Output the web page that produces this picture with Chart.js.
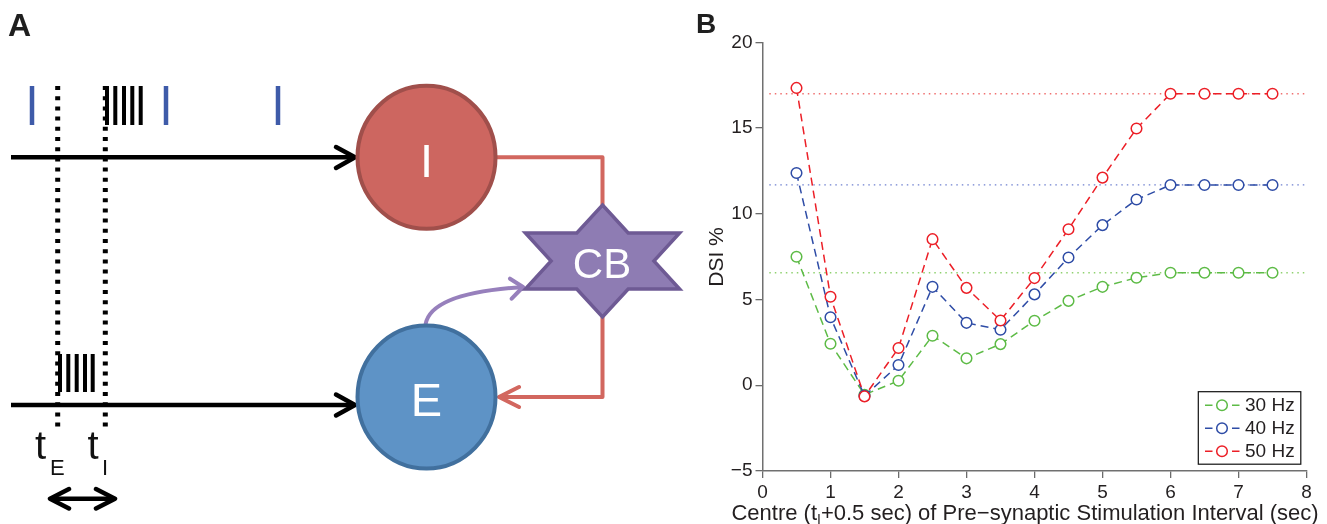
<!DOCTYPE html>
<html>
<head>
<meta charset="utf-8">
<script src="https://cdn.jsdelivr.net/npm/chart.js@4.4.1/dist/chart.umd.min.js"></script>
<style>
html,body{margin:0;padding:0;background:#fff;}
#wrap{position:relative;width:1327px;height:524px;overflow:hidden;}
#c{position:absolute;left:0;top:0;}
#diagram{position:absolute;left:0;top:0;pointer-events:none;}
</style>
</head>
<body>
<div id="wrap">
<canvas id="c" width="1327" height="524"></canvas>
<svg id="diagram" width="1327" height="524" viewBox="0 0 1327 524" font-family="'Liberation Sans', Arial, sans-serif">
  <text x="8" y="36" font-size="32" font-weight="bold" fill="#1f1f1f">A</text>
  <text x="696" y="33" font-size="28" font-weight="bold" fill="#1f1f1f">B</text>
  <!-- stimulus trains -->
  <g stroke="#3E5BA9" stroke-width="4.5">
    <line x1="32" y1="86" x2="32" y2="125"/>
    <line x1="166" y1="86" x2="166" y2="125"/>
    <line x1="278" y1="86" x2="278" y2="125"/>
  </g>
  <g stroke="#000" stroke-width="4">
    <line x1="107" y1="86" x2="107" y2="125"/>
    <line x1="115.3" y1="86" x2="115.3" y2="125"/>
    <line x1="124" y1="86" x2="124" y2="125"/>
    <line x1="132.3" y1="86" x2="132.3" y2="125"/>
    <line x1="140.7" y1="86" x2="140.7" y2="125"/>
    <line x1="60" y1="354" x2="60" y2="392"/>
    <line x1="68.3" y1="354" x2="68.3" y2="392"/>
    <line x1="76.7" y1="354" x2="76.7" y2="392"/>
    <line x1="85" y1="354" x2="85" y2="392"/>
    <line x1="92.7" y1="354" x2="92.7" y2="392"/>
  </g>
  <g stroke="#000" stroke-width="5" stroke-dasharray="4 6.2">
    <line x1="57.7" y1="86" x2="57.7" y2="427"/>
    <line x1="105.3" y1="86" x2="105.3" y2="427"/>
  </g>
  <!-- input arrows -->
  <g stroke="#000" stroke-width="4.5" fill="none">
    <line x1="11" y1="157.3" x2="352" y2="157.3"/>
    <line x1="11" y1="405" x2="352" y2="405"/>
  </g>
  <g stroke="#000" stroke-width="4.5" fill="none" stroke-linecap="round" stroke-linejoin="round">
    <polyline points="336,147 355,157.3 336,168"/>
    <polyline points="336,394.5 355,405 336,415.5"/>
    <line x1="52" y1="498.7" x2="113" y2="498.7"/>
    <polyline points="69,489 50,498.7 69,508.5"/>
    <polyline points="96,489 115,498.7 96,508.5"/>
  </g>
  <!-- time labels -->
  <text x="35" y="459" font-size="40" fill="#111">t</text>
  <text x="50" y="475" font-size="22" fill="#111">E</text>
  <text x="87.5" y="459" font-size="40" fill="#111">t</text>
  <text x="102" y="475" font-size="22" fill="#111">I</text>
  <!-- connections -->
  <g stroke="#D2675F" stroke-width="4" fill="none" stroke-linejoin="round" stroke-linecap="round">
    <polyline points="496,157.3 602.5,157.3 602.5,207"/>
    <polyline points="602.5,315 602.5,397 500,397"/>
    <polyline points="519,387 499,397 519,407"/>
  </g>
  <g stroke="#9780BC" stroke-width="4" fill="none" stroke-linecap="round" stroke-linejoin="round">
    <path d="M425.7,323.7 Q432,293 521,287.2"/>
    <polyline points="510,278.7 523,287 511.7,298.7"/>
  </g>
  <!-- neurons -->
  <ellipse cx="426.5" cy="157.3" rx="69" ry="71.5" fill="#CD6660" stroke="#A04F4B" stroke-width="4"/>
  <text x="426.5" y="177" font-size="47" fill="#fff" text-anchor="middle">I</text>
  <ellipse cx="426.5" cy="397" rx="69" ry="71.5" fill="#5E93C6" stroke="#41709E" stroke-width="4"/>
  <text x="426.5" y="416" font-size="47" fill="#fff" text-anchor="middle">E</text>
  <polygon points="602.5,205 628.2,233 679.6,233 653.9,261 679.6,289 628.2,289 602.5,317 576.8,289 525.4,289 551.1,261 525.4,233 576.8,233" fill="#8E7CB3" stroke="#6E5A94" stroke-width="3.5" stroke-linejoin="miter"/>
  <text x="602" y="278" font-size="42" fill="#fff" text-anchor="middle">CB</text>
</svg>
</div>
<script>
// ---- data ----
const xValues = [0.5, 1, 1.5, 2, 2.5, 3, 3.5, 4, 4.5, 5, 5.5, 6, 6.5, 7, 7.5];
const dsi30Hz = [7.49, 2.42, -0.55, 0.26, 2.89, 1.57, 2.40, 3.76, 4.92, 5.74, 6.27, 6.56, 6.56, 6.56, 6.56];
const dsi40Hz = [12.38, 3.97, -0.62, 1.18, 5.74, 3.64, 3.24, 5.30, 7.45, 9.34, 10.83, 11.68, 11.68, 11.68, 11.68];
const dsi50Hz = [17.34, 5.16, -0.65, 2.17, 8.52, 5.68, 3.78, 6.25, 9.10, 12.11, 14.97, 17.0, 17.0, 17.0, 17.0];
const plateauX = [0.1, 8];
const plateau30Hz = [6.56, 6.56];
const plateau40Hz = [11.68, 11.68];
const plateau50Hz = [17.0, 17.0];
const seriesLabels = ['30 Hz', '40 Hz', '50 Hz'];
const xTickValues = [0, 1, 2, 3, 4, 5, 6, 7, 8];
const yTickValues = [-5, 0, 5, 10, 15, 20];
const xTitleParts = ['Centre (t', 'I', '+0.5 sec) of Pre\u2212synaptic Stimulation Interval (sec)'];
const yTitle = 'DSI %';

const FONT = "'Liberation Sans', Arial, sans-serif";
const TEXT = '#231f20';
const colors = {
  c30: '#5DBB46', c40: '#2E4CA6', c50: '#EC1F27',
  d30: '#8FD16F', d40: '#6F80D0', d50: '#F07070'
};

const pts = (xs, ys) => xs.map((x, i) => ({x: x, y: ys[i]}));

function series(label, ys, color, order) {
  return {
    label: label, data: pts(xValues, ys), order: order,
    borderColor: color, borderWidth: 1.5, borderDash: [8, 5],
    pointRadius: 5.3, pointBorderWidth: 1.5, pointBorderColor: color,
    pointBackgroundColor: '#ffffff', fill: false, tension: 0
  };
}
function plateau(ys, color) {
  return {
    label: '', data: pts(plateauX, ys), order: 10, isPlateau: true,
    borderColor: color, borderWidth: 1.3, borderDash: [1.5, 4],
    pointRadius: 0, fill: false, tension: 0
  };
}

const datasets = [
  plateau(plateau30Hz, colors.d30),
  plateau(plateau40Hz, colors.d40),
  plateau(plateau50Hz, colors.d50),
  series(seriesLabels[0], dsi30Hz, colors.c30, 3),
  series(seriesLabels[1], dsi40Hz, colors.c40, 2),
  series(seriesLabels[2], dsi50Hz, colors.c50, 1)
];

const overlay = {
  id: 'overlay',
  afterDraw(chart) {
    const ctx = chart.ctx;
    ctx.save();
    // legend box
    const bx = 1198.3, by = 391.7, bw = 102.5, bh = 72.5;
    ctx.fillStyle = '#fff';
    ctx.fillRect(bx, by, bw, bh);
    ctx.strokeStyle = '#111';
    ctx.lineWidth = 1.2;
    ctx.strokeRect(bx, by, bw, bh);
    const entries = chart.data.datasets.filter(d => !d.isPlateau);
    entries.forEach((d, i) => {
      const cy = by + 13.5 + i * 23;
      ctx.strokeStyle = d.borderColor;
      ctx.lineWidth = 1.5;
      ctx.setLineDash([]);
      ctx.beginPath();
      ctx.moveTo(1205, cy); ctx.lineTo(1212.5, cy);
      ctx.moveTo(1232, cy); ctx.lineTo(1239.5, cy);
      ctx.stroke();
      ctx.beginPath();
      ctx.arc(1222, cy, 5.3, 0, Math.PI * 2);
      ctx.fillStyle = '#fff';
      ctx.fill();
      ctx.stroke();
      ctx.fillStyle = TEXT;
      ctx.font = '19px ' + FONT;
      ctx.textAlign = 'left';
      ctx.textBaseline = 'middle';
      ctx.fillText(d.label, 1245, cy + 1);
    });
    // x title with subscript
    const big = '22px ' + FONT, small = '14px ' + FONT;
    ctx.font = big; const w0 = ctx.measureText(xTitleParts[0]).width;
    const w2 = ctx.measureText(xTitleParts[2]).width;
    ctx.font = small; const w1 = ctx.measureText(xTitleParts[1]).width;
    let x = 1025 - (w0 + w1 + w2) / 2;
    const base = 520;
    ctx.fillStyle = TEXT;
    ctx.textAlign = 'left';
    ctx.textBaseline = 'alphabetic';
    ctx.font = big; ctx.fillText(xTitleParts[0], x, base); x += w0;
    ctx.font = small; ctx.fillText(xTitleParts[1], x, base + 4); x += w1;
    ctx.font = big; ctx.fillText(xTitleParts[2], x, base);
    // y title
    ctx.translate(722.5, 257);
    ctx.rotate(-Math.PI / 2);
    ctx.font = '21px ' + FONT;
    ctx.textAlign = 'center';
    ctx.fillText(yTitle, 0, 0);
    ctx.restore();
  }
};

const axisCommon = {
  type: 'linear',
  grid: { display: true, drawOnChartArea: false, drawTicks: true, tickLength: 7, color: '#6b6b6b', lineWidth: 1.3 },
  border: { display: true, color: '#707070', width: 1.5 },
};

new Chart(document.getElementById('c'), {
  type: 'line',
  data: { datasets: datasets },
  options: {
    responsive: false,
    animation: false,
    devicePixelRatio: 1,
    layout: { padding: { left: 712.5, right: 20.5, top: 42.3, bottom: 0 } },
    plugins: { legend: { display: false }, tooltip: { enabled: false }, title: { display: false } },
    scales: {
      x: Object.assign({}, axisCommon, {
        min: 0, max: 8,
        afterBuildTicks: s => { s.ticks = xTickValues.map(v => ({ value: v })); },
        afterFit: s => { s.height = 53; },
        ticks: { font: { family: FONT, size: 19 }, color: TEXT, padding: 3, maxRotation: 0, autoSkip: false,
                 callback: v => (v < 0 ? '\u2212' + Math.abs(v) : String(v)) }
      }),
      y: Object.assign({}, axisCommon, {
        min: -5, max: 20,
        afterBuildTicks: s => { s.ticks = yTickValues.map(v => ({ value: v })); },
        afterFit: s => { s.width = 50; },
        ticks: { font: { family: FONT, size: 19 }, color: TEXT, padding: 3, autoSkip: false,
                 callback: v => (v < 0 ? '\u2212' + Math.abs(v) : String(v)) }
      })
    }
  },
  plugins: [overlay]
});
</script>
</body>
</html>
